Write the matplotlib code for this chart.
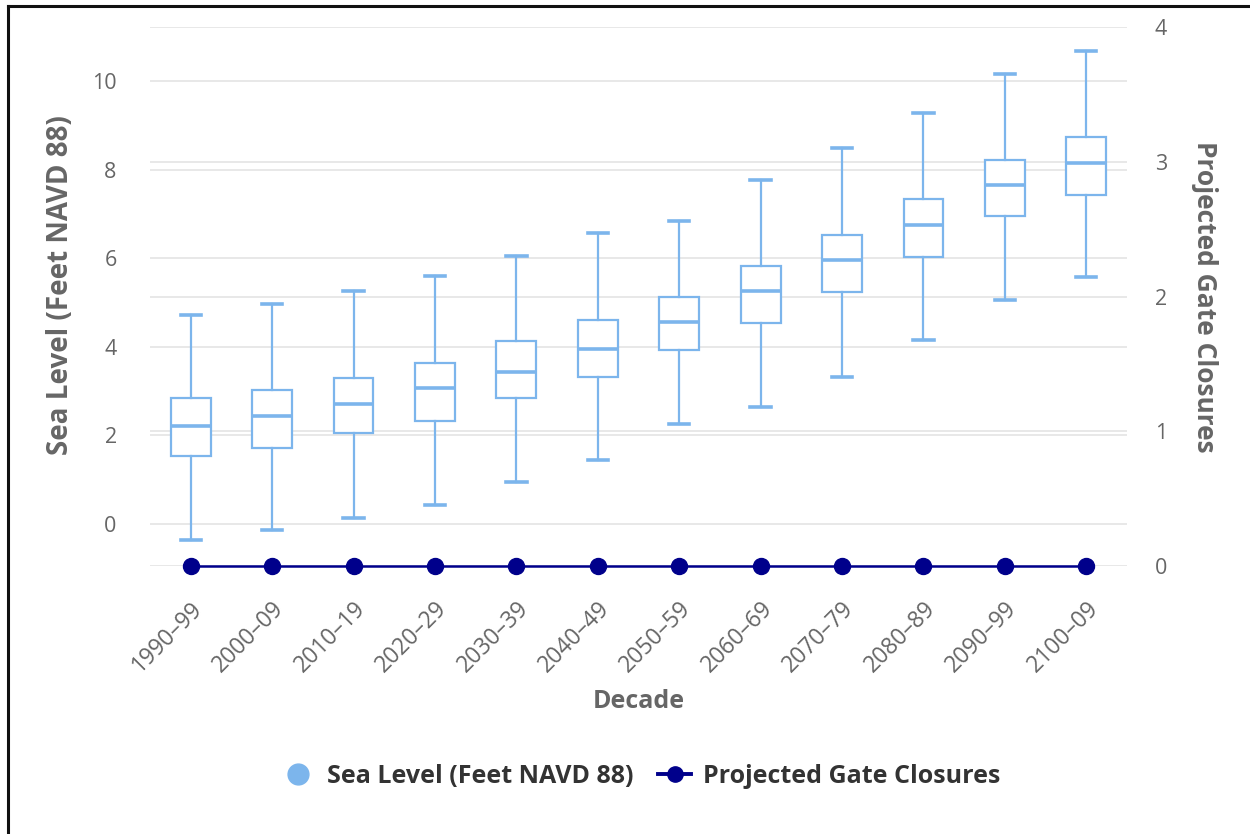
import matplotlib
matplotlib.use("Agg")
import matplotlib.pyplot as plt
from matplotlib.lines import Line2D

plt.rcParams['font.family'] = ['Open Sans', 'DejaVu Sans']

# data
decades = ["1990–99", "2000–09", "2010–19", "2020–29", "2030–39", "2040–49",
           "2050–59", "2060–69", "2070–79", "2080–89", "2090–99", "2100–09"]
whisker_low = [-0.36, -0.14, 0.14, 0.43, 0.95, 1.44, 2.26, 2.64, 3.32, 4.15, 5.06, 5.58]
box_low = [1.53, 1.71, 2.05, 2.33, 2.84, 3.32, 3.93, 4.54, 5.24, 6.03, 6.95, 7.43]
median = [2.21, 2.44, 2.72, 3.07, 3.43, 3.95, 4.56, 5.26, 5.96, 6.75, 7.65, 8.15]
box_high = [2.84, 3.02, 3.30, 3.63, 4.13, 4.60, 5.12, 5.82, 6.52, 7.34, 8.22, 8.74]
whisker_high = [4.73, 4.97, 5.26, 5.60, 6.05, 6.57, 6.84, 7.77, 8.49, 9.28, 10.17, 10.68]
gate_closures = [0] * 12

box_color = "#7cb5ec"
navy = "#00008b"
grid_color = "#e6e6e6"
text_color = "#666666"

fig = plt.figure(figsize=(12.5, 8.34), dpi=100)
ax = fig.add_axes([0.12, 0.3213, 0.7816, 0.6463])
ax2 = ax.twinx()

stats = []
for i in range(len(decades)):
    stats.append({"whislo": whisker_low[i], "q1": box_low[i], "med": median[i],
                  "q3": box_high[i], "whishi": whisker_high[i], "fliers": []})

ax.bxp(stats, positions=range(len(decades)), widths=0.49, patch_artist=True,
       showfliers=False,
       boxprops=dict(facecolor="white", edgecolor=box_color, linewidth=1.6),
       medianprops=dict(color=box_color, linewidth=2.6),
       whiskerprops=dict(color=box_color, linewidth=1.6),
       capprops=dict(color=box_color, linewidth=2.6), capwidths=0.25)

ax2.plot(range(len(decades)), gate_closures, color=navy, linewidth=1.8,
         marker="o", markersize=11.5, clip_on=False, zorder=5)

ax.set_xlim(-0.5, 11.5)
ax.set_ylim(-0.948, 11.22)
ax2.set_ylim(0, 4)
ax.set_yticks([0, 2, 4, 6, 8, 10])
ax2.set_yticks([0, 1, 2, 3, 4])
ax.set_xticks(range(len(decades)))
ax.set_xticklabels(decades, rotation=45, ha="right", rotation_mode="anchor")

for a in (ax, ax2):
    for s in a.spines.values():
        s.set_visible(False)
    a.grid(axis="y", color=grid_color, linewidth=1.3)
    a.set_axisbelow(True)
    a.tick_params(length=0, labelsize=15.5, labelcolor=text_color)
ax.tick_params(axis="x", labelsize=16.5, pad=22)
ax.tick_params(axis="y", pad=24)
ax2.tick_params(axis="y", pad=20)

# left axis drawn above the right one so its boxes cover the right gridlines
ax.set_zorder(ax2.get_zorder() + 1)
ax.patch.set_visible(False)
ax2.patch.set_visible(True)

ax.set_ylabel("Sea Level (Feet NAVD 88)", fontsize=20, fontweight="bold",
              color=text_color, va="center")
ax.yaxis.set_label_coords(-0.092, 0.522)
ax2.set_ylabel("Projected Gate Closures", fontsize=19, fontweight="bold",
               color=text_color, rotation=270, va="center")
ax2.yaxis.set_label_coords(1.079, 0.5)
ax.set_xlabel("Decade", fontsize=18, fontweight="bold", color=text_color, va="center")
ax.xaxis.set_label_coords(0.5, -0.2505)

handles = [
    Line2D([], [], linestyle="none", marker="o", markersize=15,
           markerfacecolor=box_color, markeredgecolor=box_color),
    Line2D([], [], color=navy, linewidth=2.8, marker="o", markersize=11),
]
fig.legend(handles, ["Sea Level (Feet NAVD 88)", "Projected Gate Closures"],
           loc="center", bbox_to_anchor=(0.513, 0.0690), ncol=2, frameon=False,
           prop={"size": 18, "weight": "bold"}, labelcolor="#333333",
           handlelength=1.3, handletextpad=0.5, columnspacing=1.0)

# partial frame visible on the left and top edges of the reference
fig.add_artist(Line2D([8 / 1250, 8 / 1250], [0, 1 - 6 / 834], color="#111111",
                      linewidth=2.2, transform=fig.transFigure))
fig.add_artist(Line2D([8 / 1250, 1], [1 - 6 / 834, 1 - 6 / 834], color="#111111",
                      linewidth=2.2, transform=fig.transFigure))

fig.savefig("out.png", dpi=100)
